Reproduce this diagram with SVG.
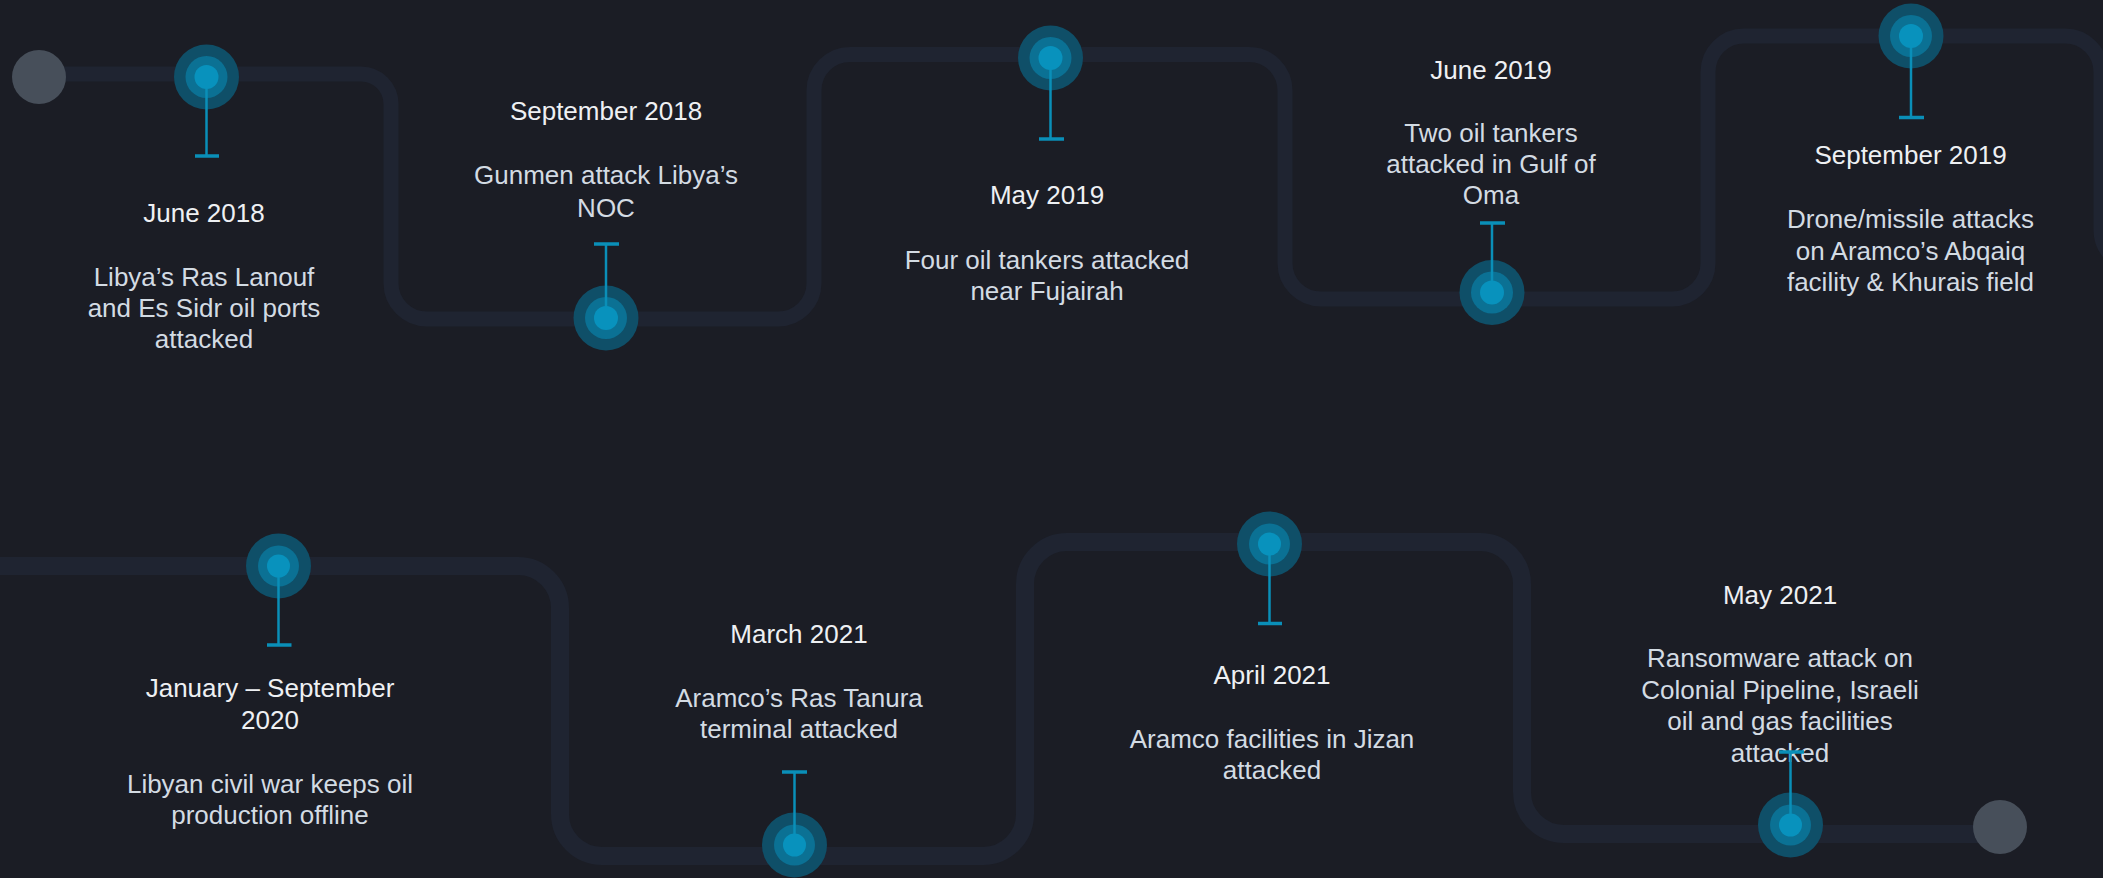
<svg xmlns="http://www.w3.org/2000/svg" width="2103" height="878" viewBox="0 0 2103 878">
<style>
.track{fill:none;stroke:#1f2431;stroke-linejoin:round}
.t1{stroke-width:15}
.t2{stroke-width:18}
.end{fill:#474f5a}
.o{fill:#0f4f68}
.m{fill:#0b7194}
.i{fill:#0892bd}
.stem{stroke:#0a8fb8;stroke-width:2.5;fill:none}
.bar{stroke:#0a8fb8;stroke-width:3.5;fill:none}
text{font-family:"Liberation Sans",Arial,sans-serif;font-size:26px;text-anchor:middle}
.d{fill:#eef0f3}
.s{fill:#d3dbe3}
</style>
<rect width="2103" height="878" fill="#1b1d25"/>
<g id="connectors">
<path class="track t1" d="M 39 74 H 361 A 30 30 0 0 1 391 104 V 283 A 36 36 0 0 0 427 319 H 778 A 36 36 0 0 0 814 283 V 90.5 A 36 36 0 0 1 850 54.5 H 1249 A 36 36 0 0 1 1285 90.5 V 263 A 36 36 0 0 0 1321 299 H 1672 A 36 36 0 0 0 1708 263 V 72 A 36 36 0 0 1 1744 36 H 2065 A 36 36 0 0 1 2101 72 V 230 A 36 36 0 0 0 2137 266"/>
<path class="track t2" d="M 0 566 H 518 A 42 42 0 0 1 560 608 V 814 A 42 42 0 0 0 602 856 H 983 A 42 42 0 0 0 1025 814 V 584 A 42 42 0 0 1 1067 542 H 1480 A 42 42 0 0 1 1522 584 V 792 A 42 42 0 0 0 1564 834 H 2000"/>
</g>
<g id="start"><circle class="end" cx="39" cy="77" r="27"/></g>
<g id="finish"><circle class="end" cx="2000" cy="827" r="27"/></g>
<g id="e1">
<circle class="o" cx="206.5" cy="77" r="32.5"/><circle class="m" cx="206.5" cy="77" r="21"/>
<path class="stem" d="M 206.5 77 V 156"/><path class="bar" d="M 195 156 H 219"/>
<circle class="i" cx="206.5" cy="77" r="12"/>
<text x="204" y="222" class="d">June 2018</text>
<text x="204" y="286" class="s">Libya’s Ras Lanouf</text>
<text x="204" y="317" class="s">and Es Sidr oil ports</text>
<text x="204" y="348" class="s">attacked</text>
</g>
<g id="e2">
<circle class="o" cx="606" cy="318" r="32.5"/><circle class="m" cx="606" cy="318" r="21"/>
<path class="stem" d="M 606 318 V 244"/><path class="bar" d="M 594 244 H 619"/>
<circle class="i" cx="606" cy="318" r="12"/>
<text x="606" y="120" class="d">September 2018</text>
<text x="606" y="184" class="s">Gunmen attack Libya’s</text>
<text x="606" y="216.5" class="s">NOC</text>
</g>
<g id="e3">
<circle class="o" cx="1050.5" cy="58" r="32.5"/><circle class="m" cx="1050.5" cy="58" r="21"/>
<path class="stem" d="M 1050.5 58 V 139"/><path class="bar" d="M 1039 139 H 1064"/>
<circle class="i" cx="1050.5" cy="58" r="12"/>
<text x="1047" y="204" class="d">May 2019</text>
<text x="1047" y="268.5" class="s">Four oil tankers attacked</text>
<text x="1047" y="300" class="s">near Fujairah</text>
</g>
<g id="e4">
<circle class="o" cx="1492" cy="292.5" r="32.5"/><circle class="m" cx="1492" cy="292.5" r="21"/>
<path class="stem" d="M 1492 292.5 V 223"/><path class="bar" d="M 1480 223 H 1505"/>
<circle class="i" cx="1492" cy="292.5" r="12"/>
<text x="1491" y="78.5" class="d">June 2019</text>
<text x="1491" y="141.5" class="s">Two oil tankers</text>
<text x="1491" y="173" class="s">attacked in Gulf of</text>
<text x="1491" y="204" class="s">Oma</text>
</g>
<g id="e5">
<circle class="o" cx="1911" cy="36" r="32.5"/><circle class="m" cx="1911" cy="36" r="21"/>
<path class="stem" d="M 1911 36 V 117.5"/><path class="bar" d="M 1899 117.5 H 1924"/>
<circle class="i" cx="1911" cy="36" r="12"/>
<text x="1910.5" y="163.5" class="d">September 2019</text>
<text x="1910.5" y="227.5" class="s">Drone/missile attacks</text>
<text x="1910.5" y="259.5" class="s">on Aramco’s Abqaiq</text>
<text x="1910.5" y="291" class="s">facility &amp; Khurais field</text>
</g>
<g id="e6">
<circle class="o" cx="278.5" cy="566" r="32.5"/><circle class="m" cx="278.5" cy="566" r="20.5"/>
<path class="stem" d="M 278.5 566 V 645"/><path class="bar" d="M 267 645 H 291.5"/>
<circle class="i" cx="278.5" cy="566" r="11.5"/>
<text x="270" y="697" class="d">January – September</text>
<text x="270" y="728.5" class="d">2020</text>
<text x="270" y="793" class="s">Libyan civil war keeps oil</text>
<text x="270" y="824" class="s">production offline</text>
</g>
<g id="e7">
<circle class="o" cx="794.5" cy="845" r="32.5"/><circle class="m" cx="794.5" cy="845" r="20.5"/>
<path class="stem" d="M 794.5 845 V 772"/><path class="bar" d="M 782 772 H 807"/>
<circle class="i" cx="794.5" cy="845" r="11.5"/>
<text x="799" y="643" class="d">March 2021</text>
<text x="799" y="706.5" class="s">Aramco’s Ras Tanura</text>
<text x="799" y="738" class="s">terminal attacked</text>
</g>
<g id="e8">
<circle class="o" cx="1269.5" cy="544" r="32.5"/><circle class="m" cx="1269.5" cy="544" r="20.5"/>
<path class="stem" d="M 1269.5 544 V 623.5"/><path class="bar" d="M 1258 623.5 H 1282"/>
<circle class="i" cx="1269.5" cy="544" r="11.5"/>
<text x="1272" y="683.5" class="d">April 2021</text>
<text x="1272" y="748" class="s">Aramco facilities in Jizan</text>
<text x="1272" y="779" class="s">attacked</text>
</g>
<g id="e9">
<circle class="o" cx="1790.5" cy="825" r="32.5"/><circle class="m" cx="1790.5" cy="825" r="20.5"/>
<circle class="i" cx="1790.5" cy="825" r="11.5"/>
<text x="1780" y="603.5" class="d">May 2021</text>
<text x="1780" y="666.5" class="s">Ransomware attack on</text>
<text x="1780" y="699" class="s">Colonial Pipeline, Israeli</text>
<text x="1780" y="730" class="s">oil and gas facilities</text>
<text x="1780" y="761.5" class="s">attacked</text>
<path class="stem" d="M 1790.5 814 V 752"/><path class="bar" d="M 1779 752 H 1804"/>
</g>
</svg>
